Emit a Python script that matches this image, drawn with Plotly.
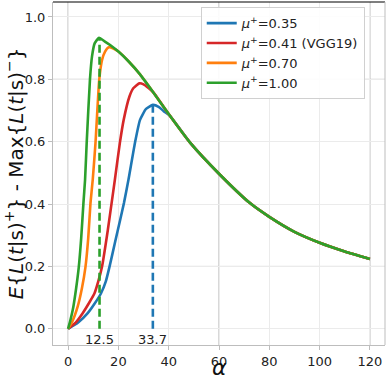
import plotly.graph_objects as go

# ---- data ----
alpha_035 = [0, 4, 7.8, 10.5, 13.1, 15.0, 16.5, 18.6, 20.7, 22.2, 24.0, 26.6, 28.6, 31.0, 33.7, 36.0, 38.0, 40.5]
value_035 = [0, 0.02, 0.05, 0.08, 0.114, 0.152, 0.20, 0.275, 0.349, 0.403, 0.478, 0.597, 0.67, 0.705, 0.718, 0.712, 0.698, 0.683]

alpha_041 = [0, 3, 5.8, 8.5, 10.5, 12.0, 13.5, 15.8, 17.3, 18.6, 20.6, 22.1, 24.4, 26.0, 28.3, 30.0, 32.0]
value_041 = [0, 0.02, 0.05, 0.085, 0.114, 0.152, 0.20, 0.317, 0.403, 0.478, 0.597, 0.67, 0.745, 0.772, 0.787, 0.784, 0.772]

alpha_070 = [0, 1.5, 3.8, 5.5, 6.9, 8.0, 8.9, 9.8, 10.9, 12.4, 13.5, 14.7, 16.2, 18.0]
value_070 = [0, 0.02, 0.071, 0.13, 0.198, 0.29, 0.403, 0.478, 0.597, 0.80, 0.862, 0.889, 0.903, 0.899]

alpha_100 = [0, 1.0, 2.1, 3.2, 4.25, 5.2, 6.1, 6.75, 7.4, 8.7, 9.5, 10.6, 12.3, 14.5, 16.7, 20, 24, 28.6, 33.9,
             40.5, 48.5, 60.4, 72.3, 80, 90, 100, 110, 120]
value_100 = [0, 0.03, 0.071, 0.13, 0.198, 0.29, 0.403, 0.478, 0.597, 0.80, 0.873, 0.916, 0.933, 0.922, 0.91,
             0.889, 0.858, 0.816, 0.758, 0.683, 0.597, 0.494, 0.403, 0.359, 0.311, 0.276, 0.248, 0.224]

# shared tail (curves merge onto the mu+=1.00 curve)
tail_start = alpha_100.index(20)
tail_alpha = alpha_100[tail_start:]
tail_value = value_100[tail_start:]

series_names = ["<i>μ</i><sup>+</sup>=0.35", "<i>μ</i><sup>+</sup>=0.41 (VGG19)",
                "<i>μ</i><sup>+</sup>=0.70", "<i>μ</i><sup>+</sup>=1.00"]
colors = ["#1f77b4", "#d62728", "#ff7f0e", "#2ca02c"]

peak_alpha = [12.5, 33.7]
peak_value = [0.933, 0.718]
peak_labels = ["12.5", "33.7"]
peak_colors = ["#2ca02c", "#1f77b4"]

x_ticks = [0, 20, 40, 60, 80, 100, 120]
y_ticks = [0.0, 0.2, 0.4, 0.6, 0.8, 1.0]
dark_x = [0, 60, 120]
dark_y = [0.2, 0.8]


def with_tail(a, v):
    last = a[-1]
    xs = list(a) + [t for t in tail_alpha if t > last + 1.0]
    ys = list(v) + [tv for t, tv in zip(tail_alpha, tail_value) if t > last + 1.0]
    return xs, ys


curves = [with_tail(alpha_035, value_035), with_tail(alpha_041, value_041),
          with_tail(alpha_070, value_070), (alpha_100, value_100)]

fig = go.Figure()

for (xs, ys), name, c in zip(curves, series_names, colors):
    fig.add_trace(go.Scatter(x=xs, y=ys, mode="lines", name=name,
                             line=dict(color=c, width=2.6, shape="spline", smoothing=0.5)))

for pa, pv, pc in zip(peak_alpha, peak_value, peak_colors):
    fig.add_trace(go.Scatter(x=[pa, pa], y=[0, pv], mode="lines", showlegend=False,
                             line=dict(color=pc, width=2.6, dash="8px,4px")))

for pa, lab in zip(peak_alpha, peak_labels):
    fig.add_annotation(x=pa, y=-0.003, text=lab, showarrow=False, yanchor="top",
                       font=dict(size=13, color="#222", family="DejaVu Sans"))

# axis titles as annotations for exact placement
fig.add_annotation(xref="paper", yref="paper", x=0.5, y=-0.108, yanchor="bottom",
                   text="<i>α</i>", showarrow=False,
                   font=dict(size=22, family="DejaVu Sans", color="#111"))
fig.add_annotation(xref="paper", yref="paper", x=-0.118, y=0.50, xanchor="center", yanchor="middle",
                   textangle=-90, showarrow=False,
                   text="<i>E</i>{<i>L</i>(<i>t</i>|s)<sup>+</sup>} - Max{<i>L</i>(<i>t</i>|s)<sup>−</sup>}",
                   font=dict(size=20, family="DejaVu Sans", color="#111"))

shapes = []
for xv in dark_x:
    shapes.append(dict(type="line", xref="x", yref="paper", x0=xv, x1=xv, y0=0, y1=1,
                       line=dict(color="#b0b0b0", width=1), layer="below"))
for yv in dark_y:
    shapes.append(dict(type="line", xref="paper", yref="y", x0=0, x1=1, y0=yv, y1=yv,
                       line=dict(color="#b0b0b0", width=1), layer="below"))
shapes.append(dict(type="line", xref="paper", yref="paper", x0=0, x1=1, y0=1, y1=1,
                   line=dict(color="black", width=1.2)))
shapes.append(dict(type="line", xref="paper", yref="paper", x0=1, x1=1, y0=0, y1=1,
                   line=dict(color="#bdbdbd", width=1)))

fig.update_layout(
    width=386, height=382,
    margin=dict(l=53, r=1, t=2, b=37, autoexpand=False),
    paper_bgcolor="white", plot_bgcolor="white",
    font=dict(family="DejaVu Sans", size=13, color="#222"),
    shapes=shapes,
    showlegend=True,
    legend=dict(x=0.445, y=0.985, xanchor="left", yanchor="top",
                bgcolor="rgba(255,255,255,0.9)", bordercolor="#d0d0d0", borderwidth=1,
                font=dict(size=13, family="DejaVu Sans", color="#222"),
                tracegroupgap=0),
)

fig.update_xaxes(range=[-6, 126], tickvals=x_ticks, showgrid=True, gridcolor="#ebebeb",
                 zeroline=False, showline=True, linecolor="#bdbdbd", ticks="outside",
                 ticklen=4, tickcolor="#bdbdbd", automargin=False)
fig.update_yaxes(range=[-0.052, 1.048], tickvals=y_ticks, ticktext=["0.0", "0.2", "0.4", "0.6", "0.8", "1.0"],
                 showgrid=True, gridcolor="#ebebeb",
                 zeroline=False, showline=True, linecolor="#bdbdbd", ticks="outside",
                 ticklen=4, tickcolor="#bdbdbd", automargin=False)

fig.write_html("out.html", config={"displayModeBar": False},
               post_script="document.body.style.margin='0';document.body.style.padding='0';")
